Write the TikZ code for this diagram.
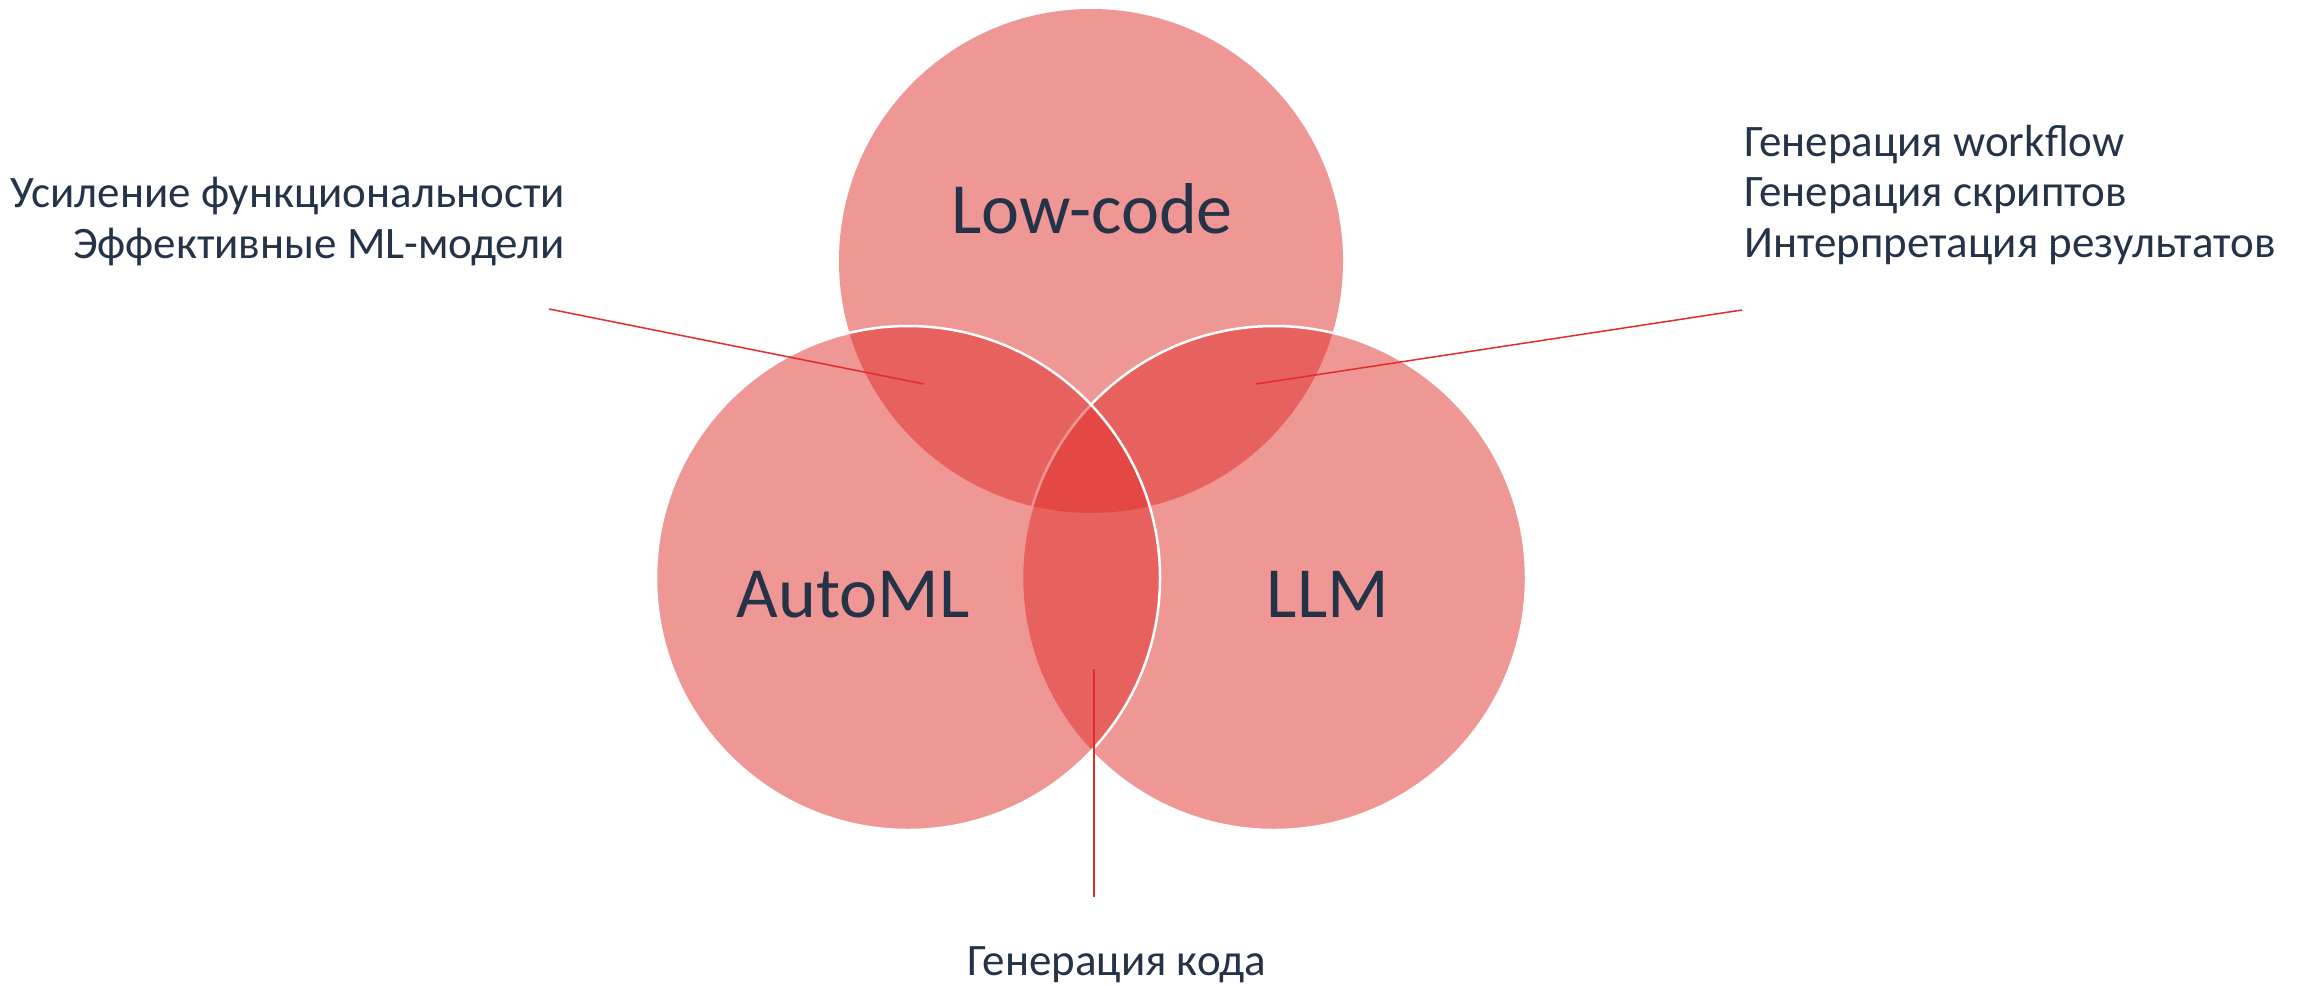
\documentclass[tikz,border=0pt]{standalone}
\usepackage{fontspec}
\setmainfont{Carlito}
\usetikzlibrary{positioning}
\definecolor{vennred}{RGB}{223,47,43}
\definecolor{leadred}{RGB}{226,44,44}
\definecolor{inkblue}{RGB}{36,51,71}
\tikzset{
  vennset/.style={fill=vennred, fill opacity=0.5},
  vennrim/.style={vennset, draw=white, draw opacity=1, line width=2.5pt},
  leadline/.style={draw=leadred, line width=1.5pt},
  setname/.style={text=inkblue, inner sep=0pt, font=\fontsize{72}{86}\selectfont},
  notetext/.style={text=inkblue, inner sep=0pt, font=\fontsize{45}{50.5}\selectfont}
}

\begin{document}
\begin{tikzpicture}[x=1pt, y=-1pt]
  \useasboundingbox (0,0) rectangle (2312,985);
  % the three sets
  \fill[vennset] (1091,261) circle[radius=252pt];
  \path[vennrim] (1274,578) circle[radius=252pt];
  \path[vennrim] (908,578) circle[radius=252pt];
  \node[setname, anchor=base] (lowcode) at (1092,233) {Low-code};
  \node[setname, anchor=base] (automl) at (853,617) {AutoML};
  \node[setname, anchor=base] (llm) at (1328,617) {LLM};
  % notes
  \node[notetext, align=right, anchor=base east] (leftnote) at (565,258)
    {Усиление функциональности\\Эффективные ML-модели};
  \node[notetext, align=left, anchor=base west] (rightnote) at (1744,257)
    {Генерация workflow\\Генерация скриптов\\Интерпретация результатов};
  \node[notetext, anchor=base] (bottomnote) at (1117,975) {Генерация кода};
  % leader lines
  \coordinate (lefttip) at (549,309);
  \coordinate (autolow) at (924,384);
  \coordinate (righttip) at (1742,310);
  \coordinate (lowllm) at (1256,384);
  \coordinate (bottomtip) at (1094,897);
  \coordinate (autollm) at (1094,669);
  \draw[leadline] (lefttip) -- (autolow);
  \draw[leadline] (righttip) -- (lowllm);
  \draw[leadline] (bottomtip) -- (autollm);
\end{tikzpicture}
\end{document}
